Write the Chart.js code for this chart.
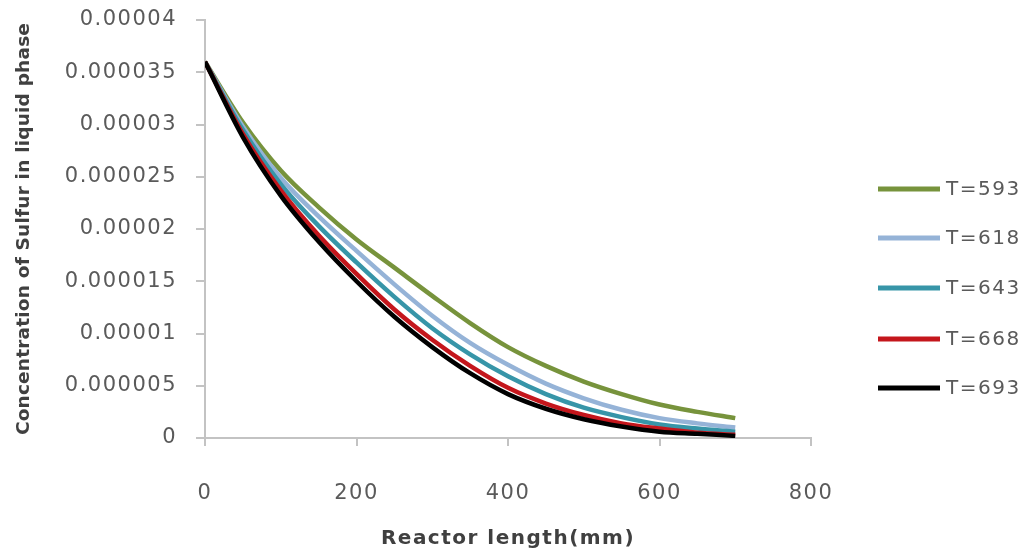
<!DOCTYPE html>
<html>
<head>
<meta charset="utf-8">
<script src="https://cdn.jsdelivr.net/npm/chart.js@4.4.0/dist/chart.umd.min.js"></script>
<style>
  html, body { margin: 0; padding: 0; background: #ffffff; }
  #wrap { width: 1027px; height: 557px; position: relative; }
</style>
</head>
<body>
<div id="wrap"><canvas id="c" width="1027" height="557"></canvas></div>
<script>
// Reactor length positions (mm)
const reactorLength = [0, 50, 100, 150, 200, 250, 300, 350, 400, 450, 500, 550, 600, 650, 700];

// Sulfur concentration in liquid phase for each temperature
const t593 = [0.0000360, 0.0000302, 0.0000256, 0.0000221, 0.0000190, 0.0000163, 0.0000136, 0.0000110, 0.0000087, 0.0000069, 0.0000054, 0.0000042, 0.0000032, 0.0000025, 0.0000019];
const t618 = [0.0000360, 0.0000298, 0.0000249, 0.0000212, 0.0000179, 0.0000147, 0.0000117, 0.0000091, 0.0000070, 0.0000052, 0.0000038, 0.0000027, 0.0000019, 0.0000014, 0.0000010];
const t643 = [0.0000360, 0.0000295, 0.0000243, 0.0000203, 0.0000168, 0.0000135, 0.0000105, 0.0000080, 0.0000059, 0.0000042, 0.0000029, 0.0000020, 0.0000013, 0.0000009, 0.0000006];
const t668 = [0.0000360, 0.0000291, 0.0000237, 0.0000194, 0.0000157, 0.0000123, 0.0000094, 0.0000069, 0.0000048, 0.0000033, 0.0000022, 0.0000014, 0.0000009, 0.0000005, 0.0000003];
const t693 = [0.0000360, 0.0000288, 0.0000232, 0.0000188, 0.0000150, 0.0000116, 0.0000087, 0.0000062, 0.0000042, 0.0000028, 0.0000018, 0.0000011, 0.0000006, 0.0000004, 0.0000002];

const seriesNames = ['T=593', 'T=618', 'T=643', 'T=668', 'T=693'];
const seriesColors = ['#77933c', '#95b3d7', '#3795a8', '#c4161c', '#000000'];

// Axis tick labels
const yTickValues = [0, 0.000005, 0.00001, 0.000015, 0.00002, 0.000025, 0.00003, 0.000035, 0.00004];
const yTickLabels = ['0', '0.000005', '0.00001', '0.000015', '0.00002', '0.000025', '0.00003', '0.000035', '0.00004'];
const xTickValues = [0, 200, 400, 600, 800];
const xTickLabels = ['0', '200', '400', '600', '800'];

const allSeries = [t593, t618, t643, t668, t693];

const datasets = allSeries.map((vals, i) => ({
  label: seriesNames[i],
  data: vals.map((v, j) => ({ x: reactorLength[j], y: v })),
  borderColor: seriesColors[i],
  backgroundColor: seriesColors[i],
  borderWidth: 4.5,
  pointRadius: 0,
  fill: false,
  cubicInterpolationMode: 'monotone',
  order: allSeries.length - i
}));

const tickFont = { family: 'DejaVu Sans', size: 21 };
const tickColor = '#5a5a5a';
const axisColor = '#c3c3c3';
const textSpacing = '1.5px';

// Slightly widened lettering for the chart text
const wideText = {
  id: 'wideText',
  beforeLayout(chart) { chart.ctx.letterSpacing = textSpacing; },
  beforeDraw(chart) { chart.ctx.letterSpacing = textSpacing; }
};

// Vertical axis title keeps normal letter spacing
function plainTitle(scale) {
  if (scale._plainTitle) return;
  scale._plainTitle = true;
  const base = Object.getPrototypeOf(scale).drawTitle;
  scale.drawTitle = function () {
    const ctx = this.ctx;
    const prev = ctx.letterSpacing;
    ctx.letterSpacing = '0.2px';
    base.call(this);
    ctx.letterSpacing = prev;
  };
}

// Legend drawn at the right of the plot, one row per temperature
const sideLegend = {
  id: 'sideLegend',
  afterDraw(chart) {
    const ctx = chart.ctx;
    ctx.save();
    ctx.letterSpacing = textSpacing;
    const x0 = 878, x1 = 940, textX = 946;
    const rows = [189, 238, 288, 339, 388];
    chart.data.datasets.forEach((ds, i) => {
      const y = rows[i];
      ctx.strokeStyle = ds.borderColor;
      ctx.lineWidth = 5;
      ctx.lineCap = 'butt';
      ctx.beginPath();
      ctx.moveTo(x0, y);
      ctx.lineTo(x1, y);
      ctx.stroke();
      ctx.fillStyle = tickColor;
      ctx.font = '20px "DejaVu Sans"';
      ctx.textBaseline = 'middle';
      ctx.textAlign = 'left';
      ctx.fillText(ds.label, textX, y + 1);
    });
    ctx.restore();
  }
};

new Chart(document.getElementById('c'), {
  type: 'line',
  data: { datasets },
  plugins: [wideText, sideLegend],
  options: {
    responsive: false,
    animation: false,
    layout: { padding: { left: 5, right: 216, top: 20, bottom: 6 } },
    plugins: {
      legend: { display: false },
      tooltip: { enabled: false }
    },
    scales: {
      x: {
        type: 'linear',
        min: 0,
        max: 800,
        afterBuildTicks(scale) { scale.ticks = xTickValues.map(v => ({ value: v })); },
        afterFit(scale) { scale.height = 113; },
        ticks: {
          font: tickFont,
          color: tickColor,
          padding: 35,
          maxRotation: 0,
          callback(value) { const k = xTickValues.indexOf(value); return k >= 0 ? xTickLabels[k] : ''; }
        },
        grid: { drawOnChartArea: false, drawTicks: true, tickLength: 8, color: axisColor, lineWidth: 2 },
        border: { display: true, color: axisColor, width: 2 },
        title: {
          display: true,
          text: 'Reactor length(mm)',
          font: { family: 'DejaVu Sans', size: 20, weight: 'bold' },
          color: '#404040',
          padding: { top: 0, bottom: 0 }
        }
      },
      y: {
        type: 'linear',
        min: 0,
        max: 0.00004,
        afterBuildTicks(scale) { scale.ticks = yTickValues.map(v => ({ value: v })); },
        afterFit(scale) {
          scale.width = 200;
          scale.paddingTop = 10;
          scale.paddingBottom = 0;
          plainTitle(scale);
        },
        ticks: {
          font: tickFont,
          color: tickColor,
          padding: 19,
          callback(value) { const k = yTickValues.findIndex(v => Math.abs(v - value) < 1e-12); return k >= 0 ? yTickLabels[k] : ''; }
        },
        grid: { drawOnChartArea: false, drawTicks: true, tickLength: 9, color: axisColor, lineWidth: 2 },
        border: { display: true, color: axisColor, width: 2 },
        title: {
          display: true,
          text: 'Concentration of Sulfur in liquid phase',
          font: { family: 'DejaVu Sans', size: 18.5, weight: 'bold' },
          color: '#404040',
          padding: { top: 8, bottom: 0 }
        }
      }
    }
  }
});
</script>
</body>
</html>
